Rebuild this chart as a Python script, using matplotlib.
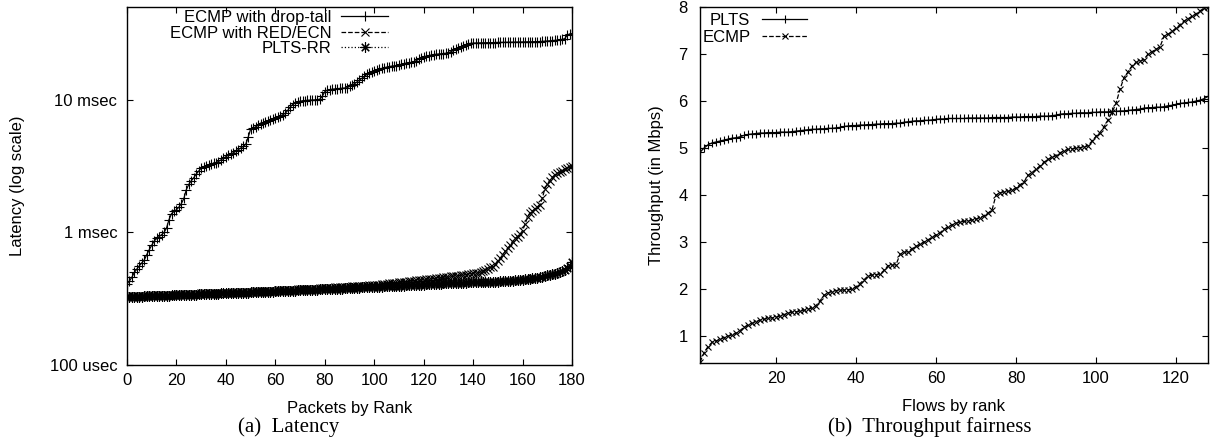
import numpy as np
import matplotlib
matplotlib.use("Agg")
from matplotlib import pyplot as plt
import matplotlib.ticker as ticker

plt.rcParams['font.family'] = ['Liberation Sans', 'DejaVu Sans']
plt.rcParams['font.size'] = 12


# %% --------------- DATA (a) LATENCY, in msec, one value per packet rank  ---------------------------------------- #
rank_a = np.arange(0, 181)

ecmp_droptail = [
    0.41, 0.43, 0.46, 0.50, 0.53, 0.56, 0.59, 0.62, 0.68, 0.74,
    0.80, 0.86, 0.90, 0.93, 0.96, 1.00, 1.08, 1.25, 1.38, 1.44,
    1.48, 1.55, 1.65, 1.80, 2.10, 2.30, 2.45, 2.58, 2.75, 2.90,
    3.05, 3.12, 3.18, 3.22, 3.27, 3.32, 3.36, 3.42, 3.52, 3.62,
    3.72, 3.82, 3.90, 3.98, 4.08, 4.20, 4.32, 4.45, 4.60, 5.20,
    6.00, 6.10, 6.25, 6.40, 6.55, 6.65, 6.80, 6.90, 7.00, 7.10,
    7.25, 7.40, 7.55, 7.70, 7.90, 8.30, 8.80, 9.20, 9.45, 9.60,
    9.75, 9.80, 9.85, 9.90, 9.92, 9.95, 9.97, 10.0, 10.1, 10.6,
    11.5, 11.8, 11.9, 12.0, 12.05, 12.1, 12.15, 12.2, 12.25, 12.3,
    12.6, 12.9, 13.2, 13.6, 14.1, 14.5, 15.0, 15.5, 15.9, 16.3,
    16.6, 16.8, 17.0, 17.2, 17.4, 17.6, 17.75, 17.9, 18.0, 18.1,
    18.3, 18.5, 18.7, 18.9, 19.0, 19.1, 19.3, 19.7, 20.2, 20.7,
    21.0, 21.3, 21.5, 21.7, 21.9, 22.0, 22.1, 22.2, 22.3, 22.4,
    22.6, 23.0, 23.5, 24.0, 24.5, 25.0, 25.5, 26.0, 26.4, 26.6,
    26.7, 26.75, 26.8, 26.82, 26.85, 26.87, 26.9, 26.92, 26.95, 26.97,
    27.0, 27.03, 27.05, 27.08, 27.1, 27.13, 27.15, 27.18, 27.2, 27.23,
    27.25, 27.28, 27.3, 27.33, 27.35, 27.38, 27.4, 27.45, 27.5, 27.6,
    27.7, 27.8, 27.9, 28.0, 28.1, 28.3, 28.5, 28.8, 30.5, 31.3, 31.5,
]

ecmp_red_ecn = [
    0.330, 0.331, 0.331, 0.332, 0.332, 0.333, 0.333, 0.334, 0.334, 0.335,
    0.335, 0.336, 0.336, 0.337, 0.337, 0.338, 0.338, 0.339, 0.339, 0.340,
    0.340, 0.341, 0.341, 0.342, 0.342, 0.343, 0.343, 0.344, 0.345, 0.345,
    0.346, 0.346, 0.347, 0.347, 0.348, 0.348, 0.349, 0.349, 0.350, 0.351,
    0.351, 0.352, 0.352, 0.353, 0.354, 0.354, 0.355, 0.355, 0.356, 0.357,
    0.358, 0.358, 0.359, 0.360, 0.360, 0.361, 0.362, 0.362, 0.363, 0.364,
    0.364, 0.365, 0.366, 0.366, 0.367, 0.368, 0.369, 0.369, 0.370, 0.371,
    0.372, 0.372, 0.373, 0.374, 0.375, 0.376, 0.376, 0.377, 0.378, 0.379,
    0.380, 0.381, 0.382, 0.383, 0.384, 0.385, 0.386, 0.387, 0.388, 0.389,
    0.390, 0.391, 0.392, 0.393, 0.394, 0.395, 0.396, 0.397, 0.398, 0.399,
    0.400, 0.402, 0.404, 0.406, 0.408, 0.410, 0.412, 0.414, 0.416, 0.418,
    0.420, 0.422, 0.424, 0.426, 0.428, 0.430, 0.432, 0.434, 0.436, 0.438,
    0.440, 0.442, 0.444, 0.446, 0.448, 0.450, 0.452, 0.455, 0.457, 0.460,
    0.462, 0.465, 0.467, 0.470, 0.472, 0.475, 0.478, 0.480, 0.483, 0.486,
    0.490, 0.494, 0.498, 0.503, 0.510, 0.520, 0.532, 0.545, 0.552, 0.580,
    0.610, 0.640, 0.680, 0.720, 0.760, 0.800, 0.850, 0.900, 0.930, 0.970,
    1.030, 1.150, 1.300, 1.410, 1.450, 1.500, 1.560, 1.620, 1.800, 2.140,
    2.300, 2.450, 2.600, 2.700, 2.780, 2.850, 2.920, 2.980, 3.030, 3.100, 3.140,
]

plts_rr = [
    0.325, 0.325, 0.326, 0.326, 0.327, 0.327, 0.328, 0.329, 0.329, 0.330,
    0.330, 0.331, 0.331, 0.332, 0.332, 0.333, 0.333, 0.334, 0.335, 0.335,
    0.336, 0.336, 0.337, 0.337, 0.338, 0.338, 0.339, 0.340, 0.340, 0.341,
    0.341, 0.342, 0.342, 0.343, 0.344, 0.344, 0.345, 0.345, 0.346, 0.346,
    0.347, 0.348, 0.348, 0.349, 0.349, 0.350, 0.351, 0.351, 0.352, 0.352,
    0.353, 0.354, 0.354, 0.355, 0.355, 0.356, 0.357, 0.357, 0.358, 0.358,
    0.359, 0.360, 0.360, 0.361, 0.362, 0.362, 0.363, 0.364, 0.364, 0.365,
    0.366, 0.366, 0.367, 0.368, 0.368, 0.369, 0.370, 0.370, 0.371, 0.372,
    0.372, 0.373, 0.374, 0.374, 0.375, 0.376, 0.377, 0.377, 0.378, 0.379,
    0.380, 0.380, 0.381, 0.382, 0.383, 0.384, 0.384, 0.385, 0.386, 0.387,
    0.388, 0.388, 0.389, 0.390, 0.391, 0.392, 0.392, 0.393, 0.394, 0.395,
    0.396, 0.397, 0.397, 0.398, 0.399, 0.400, 0.401, 0.402, 0.403, 0.403,
    0.404, 0.405, 0.406, 0.407, 0.408, 0.409, 0.410, 0.411, 0.412, 0.413,
    0.414, 0.414, 0.415, 0.416, 0.417, 0.417, 0.418, 0.418, 0.419, 0.420,
    0.420, 0.421, 0.421, 0.422, 0.422, 0.423, 0.423, 0.424, 0.425, 0.425,
    0.426, 0.427, 0.428, 0.429, 0.430, 0.432, 0.433, 0.435, 0.437, 0.439,
    0.441, 0.443, 0.445, 0.447, 0.450, 0.453, 0.456, 0.460, 0.464, 0.468,
    0.473, 0.478, 0.483, 0.489, 0.495, 0.502, 0.510, 0.520, 0.535, 0.560, 0.600,
]

lat_ticks = [0.1, 1, 10]
lat_labels = ['100 usec', '1 msec', '10 msec']


# %% --------------- DATA (b) THROUGHPUT, in Mbps, one value per flow rank  --------------------------------------- #
rank_b = np.arange(1, 129)

plts_tput = [
    4.91, 5.00, 5.07, 5.11, 5.13, 5.15, 5.17, 5.19, 5.21, 5.22,
    5.24, 5.27, 5.29, 5.30, 5.31, 5.32, 5.32, 5.33, 5.33, 5.33,
    5.34, 5.34, 5.34, 5.35, 5.36, 5.37, 5.38, 5.39, 5.40, 5.40,
    5.41, 5.41, 5.42, 5.42, 5.43, 5.44, 5.46, 5.47, 5.48, 5.48,
    5.49, 5.49, 5.50, 5.50, 5.51, 5.51, 5.52, 5.52, 5.52, 5.53,
    5.53, 5.55, 5.56, 5.57, 5.58, 5.58, 5.59, 5.59, 5.60, 5.61,
    5.62, 5.62, 5.63, 5.63, 5.63, 5.63, 5.63, 5.64, 5.64, 5.64,
    5.64, 5.64, 5.64, 5.65, 5.65, 5.65, 5.65, 5.65, 5.66, 5.66,
    5.66, 5.67, 5.67, 5.67, 5.67, 5.68, 5.68, 5.68, 5.69, 5.70,
    5.72, 5.73, 5.73, 5.74, 5.74, 5.75, 5.75, 5.75, 5.76, 5.76,
    5.77, 5.77, 5.77, 5.78, 5.78, 5.79, 5.79, 5.80, 5.81, 5.82,
    5.83, 5.85, 5.86, 5.86, 5.87, 5.87, 5.88, 5.90, 5.91, 5.93,
    5.95, 5.96, 5.97, 5.98, 6.00, 6.02, 6.05, 6.10,
]

ecmp_tput = [
    0.45, 0.65, 0.78, 0.87, 0.90, 0.93, 0.97, 1.00, 1.03, 1.06,
    1.12, 1.19, 1.23, 1.27, 1.31, 1.34, 1.36, 1.38, 1.39, 1.40,
    1.43, 1.46, 1.49, 1.51, 1.52, 1.53, 1.55, 1.57, 1.60, 1.65,
    1.75, 1.87, 1.92, 1.95, 1.97, 1.98, 1.98, 1.99, 2.00, 2.05,
    2.12, 2.20, 2.28, 2.30, 2.31, 2.32, 2.40, 2.50, 2.51, 2.52,
    2.74, 2.78, 2.80, 2.86, 2.91, 2.95, 3.00, 3.05, 3.10, 3.15,
    3.20, 3.27, 3.32, 3.37, 3.40, 3.43, 3.44, 3.45, 3.47, 3.49,
    3.52, 3.56, 3.62, 3.68, 4.00, 4.05, 4.07, 4.08, 4.10, 4.15,
    4.22, 4.28, 4.42, 4.48, 4.55, 4.62, 4.70, 4.76, 4.80, 4.84,
    4.90, 4.94, 4.97, 4.98, 5.00, 5.01, 5.02, 5.05, 5.15, 5.25,
    5.33, 5.45, 5.60, 5.76, 5.95, 6.25, 6.50, 6.62, 6.75, 6.82,
    6.85, 6.88, 7.00, 7.05, 7.10, 7.15, 7.38, 7.42, 7.48, 7.55,
    7.62, 7.70, 7.75, 7.80, 7.85, 7.92, 7.97, 8.00,
]


# %% --------------- FIGURE                                        ---------------------------------------------------- #
W, H = 1225, 441
fig = plt.figure(figsize=(W / 100, H / 100), dpi=100)

ax_1 = fig.add_axes([127 / W, 1 - 365 / H, 445 / W, 358 / H])
ax_2 = fig.add_axes([700 / W, 1 - 363 / H, 508 / W, 356 / H])

asterisk = (8, 2, 0)
common = dict(color='black', linewidth=0.9, markeredgewidth=0.8)

ax_1.plot(rank_a, ecmp_droptail, linestyle='-', marker='+', markersize=6.5,
          label='ECMP with drop-tail', **common)
ax_1.plot(rank_a, ecmp_red_ecn, linestyle='--', marker='x', markersize=6,
          label='ECMP with RED/ECN', **common)
ax_1.plot(rank_a, plts_rr, linestyle=':', marker=asterisk, markersize=7.5,
          label='PLTS-RR', **common)

ax_1.set_yscale('log')
ax_1.set_xlim(0, 180)
ax_1.set_ylim(0.1, 50)
ax_1.set_xticks(range(0, 181, 20))
ax_1.set_yticks(lat_ticks)
ax_1.set_yticklabels(lat_labels)
ax_1.yaxis.set_minor_locator(ticker.NullLocator())
ax_1.set_xlabel('Packets by Rank')
ax_1.set_ylabel('Latency (log scale)')
ax_1.xaxis.set_label_coords(0.5, -0.10)
ax_1.yaxis.set_label_coords(-0.23, 0.5)

ax_2.plot(rank_b, plts_tput, linestyle='-', marker='+', markersize=6,
          label='PLTS', **common)
ax_2.plot(rank_b, ecmp_tput, linestyle='--', marker='x', markersize=5,
          label='ECMP', **common)

ax_2.set_xlim(1, 128)
ax_2.set_ylim(0.43, 8)
ax_2.set_xticks(range(20, 121, 20))
ax_2.set_yticks(range(1, 9))
ax_2.set_xlabel('Flows by rank')
ax_2.set_ylabel('Throughput (in Mbps)')
ax_2.xaxis.set_label_coords(0.5, -0.10)
ax_2.yaxis.set_label_coords(-0.07, 0.5)

for ax in (ax_1, ax_2):
    ax.tick_params(which='both', direction='in', top=True, right=True,
                   length=4, width=0.8, labelsize=12)
    ax.tick_params(axis='x', pad=6)
    for sp in ax.spines.values():
        sp.set_linewidth(1.0)
ax_1.tick_params(axis='y', pad=7)
ax_2.tick_params(axis='y', pad=9)

ax_1.legend(loc='upper right', bbox_to_anchor=(388 / W, 1 - 10 / H), bbox_transform=fig.transFigure,
            frameon=False, markerfirst=False, borderpad=0, borderaxespad=0,
            handlelength=2.8, handletextpad=0.6, labelspacing=0.04, fontsize=12)
ax_2.legend(loc='upper right', bbox_to_anchor=(807 / W, 1 - 13 / H), bbox_transform=fig.transFigure,
            frameon=False, markerfirst=False, borderpad=0, borderaxespad=0,
            handlelength=2.7, handletextpad=0.7, labelspacing=0.1, fontsize=12)

fig.text(289 / W, 1 - 427 / H, '(a)  Latency', ha='center', va='center',
         family=['Liberation Serif'], fontsize=15)
fig.text(930 / W, 1 - 427 / H, '(b)  Throughput fairness', ha='center', va='center',
         family=['Liberation Serif'], fontsize=15)

fig.savefig('out.png', dpi=100)
